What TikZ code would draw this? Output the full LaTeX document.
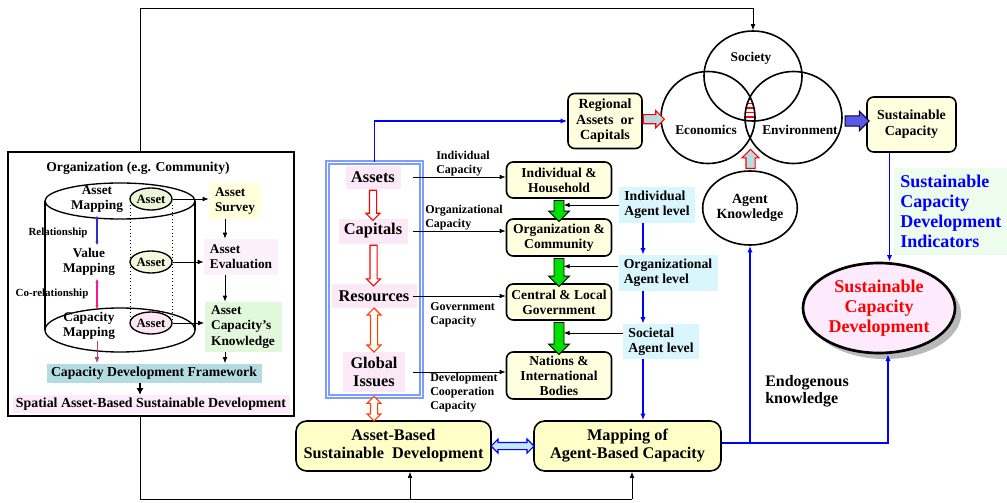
\documentclass[tikz,border=0pt]{standalone}
\usepackage{fontspec}
\setmainfont{Liberation Serif}
\usetikzlibrary{shapes.geometric,shapes.arrows,arrows.meta,calc}
\definecolor{boxy}{HTML}{FFFFE0}
\definecolor{boxy2}{HTML}{FFFFC8}
\definecolor{agentc}{HTML}{D9F6FC}
\definecolor{pinkbg}{HTML}{FCE9F8}
\definecolor{tealbg}{HTML}{B4DCE0}
\definecolor{greenar}{HTML}{00E000}
\definecolor{pblue}{HTML}{0000FF}
\definecolor{framebl}{HTML}{7F9CFF}
\definecolor{indbg}{HTML}{EEFCEE}
\definecolor{scdpink}{HTML}{FDEBFD}
\definecolor{lightcy}{HTML}{B8DCE4}
\definecolor{lightcy2}{HTML}{C4E8F6}
\definecolor{orred}{HTML}{FF4000}
\definecolor{asurv}{HTML}{FFFFDC}
\definecolor{aeval}{HTML}{FCF0FA}
\definecolor{aknow}{HTML}{E2F8DC}
\definecolor{aonec}{HTML}{EAF6D6}
\definecolor{atwoc}{HTML}{F4F8DC}
\definecolor{athreec}{HTML}{FCE6F4}
\definecolor{magarr}{HTML}{FF1493}
\definecolor{cmarr}{HTML}{B0407F}
\definecolor{relbl}{HTML}{3030C0}
\definecolor{envarr}{HTML}{5A5AE6}
\begin{document}
\begin{tikzpicture}[x=0.75pt,y=-0.75pt,
  F/.style 2 args={font=\fontsize{#1}{#2}\selectfont\bfseries},
  wh/.style 2 args={minimum width=#1*0.75pt,minimum height=#2*0.75pt},
  ybox/.style={draw,line width=1.2pt,rounded corners=5pt,fill=boxy,align=center,inner sep=1pt},
  abox/.style={fill=agentc,align=left,inner sep=1pt},
  pbox/.style={fill=pinkbg,align=center,inner sep=1pt},
  arr/.style={-{Latex[length=4.5pt,width=3.5pt]},line width=0.6pt},
  bl/.style={draw=pblue,line width=1.3pt,-{Latex[length=5pt,width=4pt]}},
  hol/.style={single arrow,inner xsep=0pt,line width=0.8pt},
  dhol/.style={double arrow,inner xsep=0pt,line width=0.8pt},
  lbl/.style={F={9}{10.5},align=left,anchor=west,inner sep=0pt},
]
\useasboundingbox (0,0) rectangle (1007,503);

% ---------------- left panel ----------------
\node[draw,line width=1.2pt,wh={286}{264}] (org) at (151,284) {};
\node[F={10.2}{12}] (orgt) at (138,168) {Organization (e.g. Community)};
\draw[line width=1pt] (45,201) -- (45,330) (195,201) -- (195,330);
\draw[line width=1pt] (120,201) ellipse [x radius=75, y radius=18];
\draw[line width=1pt] (120,330) ellipse [x radius=75, y radius=22];
\draw[dotted,line width=0.6pt] (130,205) -- (130,320) (172,205) -- (172,320);
\node[ellipse,draw,line width=1pt,fill=aonec,wh={42}{22},inner sep=0pt,F={9.5}{11}] (a1) at (151,199) {Asset};
\node[ellipse,draw,line width=1pt,fill=atwoc,wh={42}{22},inner sep=0pt,F={9.5}{11}] (a2) at (151,262) {Asset};
\node[ellipse,draw,line width=1pt,fill=athreec,wh={42}{22},inner sep=0pt,F={9.5}{11}] (a3) at (151,323) {Asset};
\node[F={10}{11.3},align=center,inner sep=1pt] (am) at (97,199) {Asset\\Mapping};
\node[F={10}{11.3},align=center,inner sep=1pt] (vm) at (89,262) {Value\\Mapping};
\node[F={10}{11.3},align=center,inner sep=1pt] (cm) at (89,326) {Capacity\\Mapping};
\node[F={8.2}{9}] (rel) at (58,233) {Relationship};
\node[F={8.2}{9}] (corel) at (52,294) {Co-relationship};
\node[fill=asurv,F={10}{11.3},align=left,wh={52}{36},inner sep=2pt] (as) at (235,201) {Asset\\Survey};
\node[fill=aeval,F={10}{11.3},align=left,wh={74}{36},inner sep=2pt] (ae) at (241,257) {Asset\\Evaluation};
\node[fill=aknow,F={10}{11.6},align=left,wh={77}{50},inner sep=2pt] (akn) at (243,327) {Asset\\Capacity’s\\Knowledge};
\node[fill=tealbg,F={10.3}{12},wh={215}{19},inner sep=0pt] (cdf) at (154,373) {Capacity Development Framework};
\node[fill=scdpink,F={10.4}{12},wh={277}{18},inner sep=0pt] (sasd) at (151,404) {Spatial Asset-Based Sustainable Development};

\coordinate (vx) at (225,0);
\coordinate (lx) at (140,0);
\draw[arr] (a1.east) -- (as.west |- a1.east);
\draw[arr] (a2.east) -- (ae.west |- a2.east);
\draw[arr] (a3.east) -- (akn.west |- a3.east);
\draw[arr] (as.south -| vx) -- (ae.north -| vx);
\draw[arr] (ae.south -| vx) -- (akn.north -| vx);
\draw[arr] (akn.south -| vx) -- (cdf.north -| vx);
\draw[arr,draw=cmarr] (cm.south -| am.south) -- (cdf.north -| am.south);
\draw[{Latex[length=3pt,width=2.5pt]}-{Latex[length=3pt,width=2.5pt]},line width=0.8pt,draw=relbl] ([yshift=-1pt]am.south) -- ([yshift=1pt]vm.north -| am.south);
\draw[{Latex[length=3pt,width=2.5pt]}-{Latex[length=3pt,width=2.5pt]},line width=0.8pt,draw=magarr] ([yshift=-1pt]vm.south -| am.south) -- ([yshift=1pt]cm.north -| am.south);
\draw[-{Latex[length=5pt,width=5.5pt]},line width=1.8pt] (cdf.south -| lx) -- (sasd.north -| lx);

% ---------------- middle column ----------------
\node[draw=framebl,double=white,double distance=1.2pt,line width=1.1pt,wh={94}{234}] (col) at (374.5,279.5) {};
\node[pbox,F={12.3}{14},wh={55}{23}] (nas) at (373,177) {Assets};
\node[pbox,F={12.3}{14},wh={69}{25}] (ncap) at (373,231) {Capitals};
\node[pbox,F={12.3}{14},wh={85}{24}] (nres) at (374,296) {Resources};
\node[pbox,F={12.2}{13.5},wh={62}{40}] (ngl) at (374,372) {Global\\Issues};

\node[hol,draw=red,fill=white,rotate=-90,minimum height=22.5pt,inner ysep=2.25pt,single arrow head extend=2.6pt] (h1) at ($(nas.south)!0.5!(ncap.north)$) {};
\node[hol,draw=red,fill=white,rotate=-90,minimum height=30.4pt,inner ysep=2.25pt,single arrow head extend=2.6pt] (h2) at ($(ncap.south)!0.5!(nres.north)$) {};
\node[dhol,draw=orred,fill=white,rotate=90,minimum height=33pt,inner ysep=2.25pt,double arrow head extend=2.6pt] (h3) at ($(nres.south)!0.5!(ngl.north)$) {};

% ---------------- center boxes ----------------
\node[ybox,F={10.2}{11.3},wh={105}{36}] (ih) at (559,180) {Individual \&\\Household};
\node[ybox,F={10.2}{11.3},wh={105}{37}] (oc) at (559,237.5) {Organization \&\\Community};
\node[ybox,F={10.2}{11.3},wh={105}{36}] (clg) at (559,302) {Central \& Local\\Government};
\node[ybox,F={10.2}{11.3},wh={105}{47}] (nib) at (559,375.5) {Nations \&\\International\\Bodies};

\node[single arrow,draw=black,line width=0.7pt,fill=greenar,inner xsep=0pt,inner ysep=3.4pt,rotate=-90,minimum height=15.75pt,single arrow head extend=4.1pt] (g1) at ($(ih.south)!0.5!(oc.north)$) {};
\node[single arrow,draw=black,line width=0.7pt,fill=greenar,inner xsep=0pt,inner ysep=3.4pt,rotate=-90,minimum height=21pt,single arrow head extend=4.1pt] (g2) at ($(oc.south)!0.5!(clg.north)$) {};
\node[single arrow,draw=black,line width=0.7pt,fill=greenar,inner xsep=0pt,inner ysep=3.4pt,rotate=-90,minimum height=24pt,single arrow head extend=4.1pt] (g3) at ($(clg.south)!0.5!(nib.north)$) {};

\draw[arr] ([xshift=-7pt]col.east |- nas) -- (ih.west |- nas);
\draw[arr] ([xshift=-7pt]col.east |- ncap) -- (oc.west |- ncap);
\draw[arr] ([xshift=-7pt]col.east |- nres) -- (clg.west |- nres);
\draw[arr] ([xshift=-7pt]col.east |- ngl) -- (nib.west |- ngl);

\node[lbl] (lic) at (436,164) {Individual\\Capacity};
\node[lbl] (loc) at (425,218) {Organizational\\Capacity};
\node[lbl] (lgc) at (430,315) {Government\\Capacity};
\node[lbl] (ldc) at (430,393) {Development\\Cooperation\\Capacity};

% agent levels
\node[abox,F={10.3}{11.3},wh={76}{36}] (ial) at (657,205) {Individual\\Agent level};
\node[abox,F={10.3}{11.3},wh={99}{36}] (oal) at (668,273) {Organizational\\Agent level};
\node[abox,F={10.3}{11.3},wh={76}{35}] (sal) at (661,341.5) {Societal\\Agent level};
\draw[arr] (ial.west) -- ([xshift=3.5pt]ih.south |- ial.west);
\draw[arr] ([yshift=5pt]oal.west) -- ([xshift=3.5pt,yshift=5pt]oc.south |- oal.west);
\draw[arr] ([yshift=6.4pt]sal.west) -- ([xshift=3.5pt,yshift=6.4pt]clg.south |- sal.west);

% ---------------- bottom boxes ----------------
\node[ybox,fill=boxy2,rounded corners=8pt,F={12.2}{13.5},wh={195}{50}] (absd) at (393.5,446) {Asset-Based\\Sustainable\ \ Development};
\node[ybox,fill=boxy2,rounded corners=8pt,F={12.2}{13.5},wh={187}{50}] (mapc) at (627.5,446) {Mapping of\\Agent-Based Capacity};
\node[dhol,draw=orred,fill=white,rotate=90,minimum height=18.4pt,inner ysep=2.25pt,double arrow head extend=2.6pt] (h4) at ($(col.south -| ngl)!0.5!(absd.north -| ngl)$) {};
\node[dhol,draw=pblue,fill=lightcy2,minimum height=32.25pt,inner ysep=2.25pt,double arrow head extend=2.6pt] (h5) at ($(absd.east)!0.5!(mapc.west)$) {};

\coordinate (bx) at (643,0);
\draw[bl] (ial.south -| bx) -- (oal.north -| bx);
\draw[bl] (oal.south -| bx) -- (sal.north -| bx);
\draw[bl] (sal.south -| bx) -- (mapc.north -| bx);

% outer connectors
\coordinate (tl) at (140,8);
\coordinate (bb) at (140,499);
\coordinate (ba1) at (410,499);
\coordinate (ba2) at (632,499);

% ---------------- Venn ----------------
\begin{scope}
\clip (753,76) ellipse [x radius=49,y radius=45];
\clip (708,117.5) ellipse [x radius=47,y radius=46];
\clip (793.5,117.5) ellipse [x radius=48.5,y radius=46];
\foreach \yy in {90,94.5,...,126} \draw[red,line width=0.8pt] (730,\yy) -- (775,\yy);
\end{scope}
\node[ellipse,draw,line width=1.2pt,wh={98}{90},inner sep=0pt] (soc) at (753,76) {};
\node[ellipse,draw,line width=1.2pt,wh={94}{92},inner sep=0pt] (eco) at (708,117.5) {};
\node[ellipse,draw,line width=1.2pt,wh={97}{92},inner sep=0pt] (env) at (793.5,117.5) {};
\node[F={10}{11}] (tsoc) at (751,58) {Society};
\node[F={10}{11}] (teco) at (706,130) {Economics};
\node[F={10}{11}] (tenv) at (800,130) {Environment};
\coordinate (vb) at (751,152);

\node[ybox,F={10.5}{11.7},wh={74}{55}] (ra) at (605,121) {Regional\\Assets\ \ or\\Capitals};
\node[hol,draw=red,fill=lightcy,minimum height=15.75pt,inner ysep=3pt,single arrow head extend=3pt] (h6) at ($(ra.east)!0.5!(eco.west)$) {};

\node[ellipse,draw,line width=1.2pt,wh={82}{74},F={10.5}{11.5},align=center,inner sep=0pt] (ak) at (750,208) {Agent\\Knowledge};
\node[hol,draw=red,fill=lightcy,rotate=90,minimum height=14.25pt,inner ysep=3pt,single arrow head extend=3pt] (h7) at ($(ak.north)!0.5!(vb)$) {};

\node[ybox,F={10.4}{12},wh={89}{55}] (sc) at (911.5,124.5) {Sustainable\\Capacity};
\node[hol,draw=black!80!blue,fill=envarr,minimum height=18pt,inner ysep=3.4pt,single arrow head extend=3.4pt] (h8) at ($(env.east)!0.5!(sc.west)$) {};

\node[fill=indbg,text=pblue,F={13.5}{15},align=left,anchor=north west,wh={113}{87},inner sep=3pt] (ind) at (894,168) {Sustainable\\Capacity\\Development\\Indicators};

\fill[gray!55] (885,314) ellipse [x radius=76,y radius=45];
\node[ellipse,draw,line width=2pt,fill=scdpink,wh={152}{90},text=red,F={13.5}{15},align=center,inner sep=0pt] (scd) at (879,308) {Sustainable\\Capacity\\Development};

\node[F={12}{13},align=left,anchor=west,inner sep=0pt] (endo) at (765,391) {Endogenous\\knowledge};

% connectors
\draw[bl] (col.north) |- (ra.west);
\draw[bl] ([xshift=-16.5pt]sc.south) -- ([xshift=-16.5pt]sc.south |- scd.north);
\draw[bl] ([yshift=2pt]mapc.east) -| (ak.south);
\draw[bl] ([yshift=2pt]mapc.east) -| ([xshift=6.75pt]scd.south);
\draw[arr] (org.north -| tl) -- (tl) -| (soc.north);
\draw[line width=0.7pt] (org.south -| bb) -- (bb) -- (ba2);
\draw[arr] (ba1) -- (ba1 |- absd.south);
\draw[arr] (ba2) -- (ba2 |- mapc.south);
\end{tikzpicture}
\end{document}
